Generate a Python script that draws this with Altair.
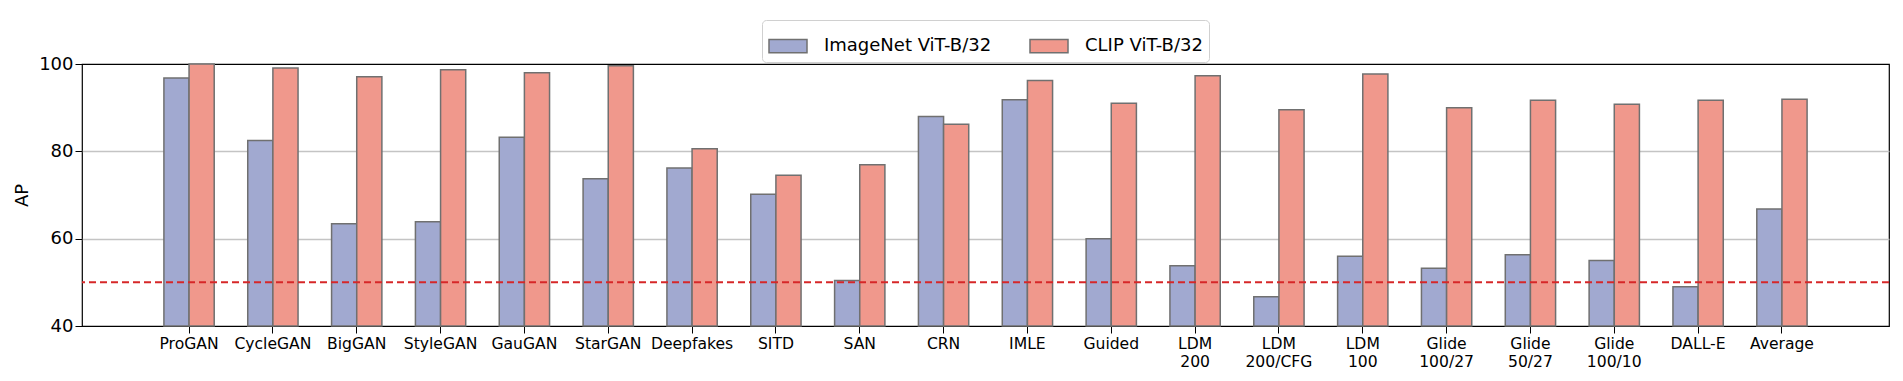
import altair as alt
import pandas as pd

categories = ["ProGAN", "CycleGAN", "BigGAN", "StyleGAN", "GauGAN", "StarGAN",
              "Deepfakes", "SITD", "SAN", "CRN", "IMLE", "Guided",
              "LDM\n200", "LDM\n200/CFG", "LDM\n100", "Glide\n100/27",
              "Glide\n50/27", "Glide\n100/10", "DALL-E", "Average"]
imagenet = [96.8, 82.5, 63.4, 63.9, 83.2, 73.7, 76.2, 70.2, 50.4, 88.0,
            91.8, 60.0, 53.8, 46.7, 56.0, 53.2, 56.3, 55.0, 49.0, 66.8]
clip = [100.0, 99.1, 97.1, 98.7, 98.0, 99.6, 80.6, 74.5, 76.9, 86.2,
        96.2, 91.0, 97.3, 89.5, 97.7, 90.0, 91.7, 90.8, 91.7, 91.9]
series = ["ImageNet ViT-B/32", "CLIP ViT-B/32"]
colors = ["#A1A9D0", "#F0988C"]
yticks = [40, 60, 80, 100]
chance = [50]

rows = []
for c, a, b in zip(categories, imagenet, clip):
    rows.append({"cat": c, "model": series[0], "ap": a})
    rows.append({"cat": c, "model": series[1], "ap": b})
df = pd.DataFrame(rows)

FONT = "DejaVu Sans"

bars = alt.Chart(df).mark_bar(stroke="#707070", strokeWidth=1.5).encode(
    x=alt.X("cat:N", sort=categories,
            scale=alt.Scale(paddingInner=0.4, paddingOuter=0.977),
            axis=alt.Axis(title=None, labelAngle=0, labelFont=FONT, labelFontSize=15.6,
                          labelColor="black", tickColor="black", tickSize=7, tickWidth=1,
                          domain=False, labelPadding=3, labelLineHeight=18,
                          labelBaseline="top",
                          labelExpr="split(datum.label, '\\n')")),
    xOffset=alt.XOffset("model:N", sort=series,
                        scale=alt.Scale(paddingInner=0, paddingOuter=0)),
    y=alt.Y("ap:Q", scale=alt.Scale(domain=[40, 100], nice=False, zero=False),
            axis=alt.Axis(values=yticks, title="AP", grid=True,
                          gridColor={"condition": {"test": "datum.value === 40 || datum.value === 100",
                                                   "value": "rgba(0,0,0,0)"},
                                     "value": "#c4c4c4"},
                          gridWidth=1.5,
                          labelFont=FONT, labelFontSize=18, labelColor="black",
                          tickColor="black", tickSize=7, tickWidth=1, labelPadding=2,
                          domain=False, titleFont=FONT, titleFontSize=18,
                          titleFontWeight="normal", titleColor="black",
                          titleX=-60, titleY=131, titleBaseline="middle", titleAngle=-90)),
    y2=alt.datum(40),
    color=alt.Color("model:N", sort=series,
                    scale=alt.Scale(domain=series, range=colors),
                    legend=alt.Legend(title=None, orient="none", legendX=680, legendY=-44,
                                      direction="horizontal", columns=2,
                                      symbolType="M-1,-0.35H1V0.35H-1Z", symbolSize=1444,
                                      symbolStrokeColor="#707070", symbolStrokeWidth=1.5,
                                      symbolOpacity=1, labelLimit=400,
                                      labelFont=FONT, labelFontSize=18, labelColor="black",
                                      labelOffset=16, columnPadding=35, padding=6,
                                      strokeColor="#d0d0d0", cornerRadius=4,
                                      fillColor="white")),
)

rule = alt.Chart(pd.DataFrame({"y": chance})).mark_rule(
    color="#d62728", strokeDash=[7, 4], strokeWidth=2
).encode(y="y:Q")

chart = alt.layer(bars, rule).properties(
    width=1807, height=262,
    autosize=alt.AutoSizeParams(type="none"),
    padding={"left": 74, "top": 56, "right": 6, "bottom": 47},
).configure_view(stroke="black", strokeWidth=1.2)

chart.save("out.html", embed_options={"renderer": "svg", "actions": False})
